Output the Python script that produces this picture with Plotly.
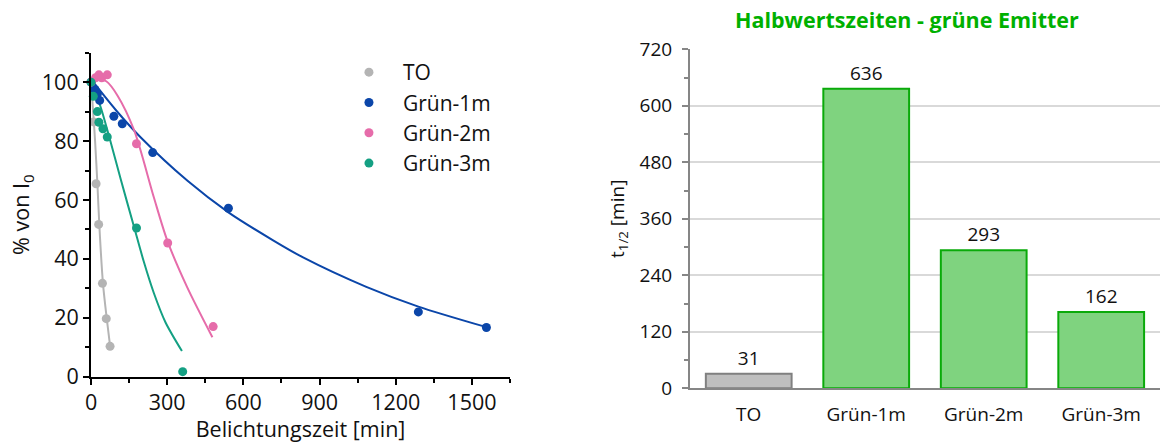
import plotly.graph_objects as go

# Measured intensity decay (% of initial intensity) vs. exposure time [min]
to_t = [0, 10, 20, 30, 45, 60, 75]
to_i = [100, 86.5, 65.5, 51.7, 31.7, 19.7, 10.3]
g1_t = [0, 15, 25, 34, 90, 123, 243, 541, 1289, 1557]
g1_i = [100, 97.5, 96.0, 93.8, 88.4, 85.9, 76.1, 57.2, 22.0, 16.7]
g2_t = [0, 18, 31, 42, 64, 179, 302, 481]
g2_i = [100, 101.5, 102.5, 101.5, 102.5, 79.1, 45.4, 17.0]
g3_t = [0, 9, 25, 31, 47, 64, 179, 361]
g3_i = [100, 95.2, 90.0, 86.4, 84.2, 81.4, 50.5, 1.7]

# Fitted decay curves
to_fit_t = [0, 10, 16, 25, 33, 47, 62, 75]
to_fit_i = [100, 88, 80, 65.7, 51, 31.7, 19.7, 10.5]
g1_fit_t = [0, 100, 195, 380, 541, 717, 835, 1084, 1289, 1554]
g1_fit_i = [101, 90.3, 81.3, 66.5, 55.8, 46.3, 40.5, 30.5, 23.8, 16.9]
g2_fit_t = [0, 30, 60, 104, 170, 247, 300, 378, 478]
g2_fit_i = [100, 101, 100.3, 95.5, 83.6, 61, 46.3, 30.5, 13.4]
g3_fit_t = [0, 20, 40, 70, 117, 169, 208, 247, 293, 358]
g3_fit_i = [100, 96, 91, 82, 67, 51, 39, 28.5, 18.5, 8.7]

# Half-life values
categories = ["TO", "Grün-1m", "Grün-2m", "Grün-3m"]
half_lives = [31, 636, 293, 162]

series = [
    ("TO", to_t, to_i, to_fit_t, to_fit_i, "#b4b4b4"),
    ("Grün-1m", g1_t, g1_i, g1_fit_t, g1_fit_i, "#0b46a9"),
    ("Grün-2m", g2_t, g2_i, g2_fit_t, g2_fit_i, "#e66caa"),
    ("Grün-3m", g3_t, g3_i, g3_fit_t, g3_fit_i, "#14a083"),
]

FONT = "Open Sans"
fig = go.Figure()

for name, t, i, ft, fi, col in series:
    fig.add_trace(go.Scatter(
        x=ft, y=fi, mode="lines", line=dict(color=col, width=2, shape="spline", smoothing=0.8),
        showlegend=False, hoverinfo="skip", xaxis="x", yaxis="y", cliponaxis=False))
for name, t, i, ft, fi, col in series:
    fig.add_trace(go.Scatter(
        x=t, y=i, mode="markers", name=name, marker=dict(color=col, size=9),
        xaxis="x", yaxis="y", cliponaxis=False))

bar_fill = ["#bfbfbf", "#7fd37f", "#7fd37f", "#7fd37f"]
bar_line = ["#808080", "#0aaa0a", "#0aaa0a", "#0aaa0a"]
fig.add_trace(go.Bar(
    x=categories, y=half_lives, text=[str(v) for v in half_lives],
    textposition="outside", textfont=dict(size=19, color="#111111", family=FONT),
    marker=dict(color=bar_fill, line=dict(color=bar_line, width=2)),
    showlegend=False, xaxis="x2", yaxis="y2", cliponaxis=False))

fig.update_layout(
    width=1161, height=443,
    margin=dict(l=0, r=0, t=0, b=0, autoexpand=False),
    paper_bgcolor="white", plot_bgcolor="white",
    font=dict(family=FONT, size=21, color="#111111"),
    bargap=0.27,
    xaxis=dict(
        domain=[0.0784, 0.4393], range=[0, 1650], tickvals=[0, 300, 600, 900, 1200, 1500],
        showline=True, linecolor="black", linewidth=2, ticks="outside", ticklen=6,
        tickwidth=2, tickcolor="black", showgrid=False, zeroline=False, automargin=False,
        minor=dict(dtick=150, ticks="outside", ticklen=4, tickwidth=2, tickcolor="black"),
        tickfont=dict(size=21.5), anchor="y",
        title=dict(text="Belichtungszeit [min]", font=dict(size=21.5), standoff=4)),
    yaxis=dict(
        domain=[0.1497, 0.881], range=[0, 110], tickvals=[0, 20, 40, 60, 80, 100],
        showline=True, linecolor="black", linewidth=2, ticks="outside", ticklen=6,
        tickwidth=2, tickcolor="black", showgrid=False, zeroline=False, automargin=False,
        minor=dict(dtick=10, ticks="outside", ticklen=4, tickwidth=2, tickcolor="black"),
        tickfont=dict(size=21.5), anchor="x",
        title=dict(text="% von I<sub>0</sub>", font=dict(size=21.5), standoff=6)),
    xaxis2=dict(
        domain=[0.5943, 0.9991], showline=True, linecolor="#868686", linewidth=2,
        ticks="", showgrid=False, zeroline=False, tickfont=dict(size=19), anchor="y2",
        automargin=False, ticklabelstandoff=8),
    yaxis2=dict(
        domain=[0.1235, 0.8887], range=[0, 720], dtick=120,
        showline=True, linecolor="#868686", linewidth=2, ticks="outside", ticklen=6,
        tickwidth=2, tickcolor="#868686", showgrid=True, gridcolor="#d9d9d9", gridwidth=1.5,
        zeroline=False, automargin=False, ticklabelstandoff=6,
        minor=dict(dtick=60, ticks="outside", ticklen=4, tickwidth=2, tickcolor="#868686",
                   showgrid=False),
        tickfont=dict(size=19), anchor="x2",
        title=dict(text="t<sub>1/2</sub> [min]", font=dict(size=19), standoff=10)),
    legend=dict(x=0.2885, y=0.8826, xanchor="left", yanchor="top", bgcolor="rgba(0,0,0,0)",
                font=dict(size=21), itemwidth=58, tracegroupgap=0),
    annotations=[dict(
        text="<b>Halbwertszeiten - grüne Emitter</b>", x=907 / 1161, y=1 - 20 / 443,
        xref="paper", yref="paper", xanchor="center", yanchor="middle", showarrow=False,
        font=dict(size=21.5, color="#00b000", family=FONT))],
)

fig.write_html("out.html")
